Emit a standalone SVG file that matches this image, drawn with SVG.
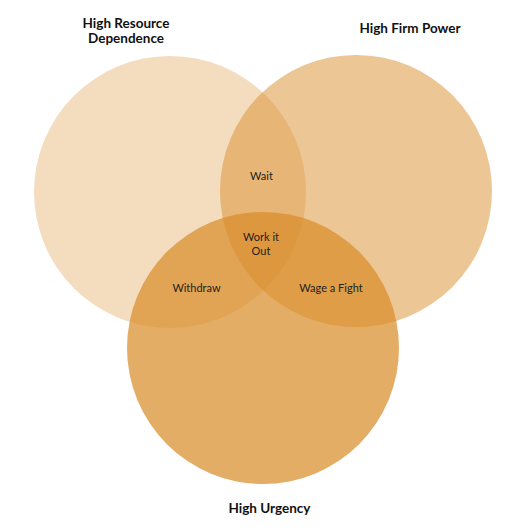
<svg xmlns="http://www.w3.org/2000/svg" width="526" height="530" viewBox="0 0 526 530">
<style>
.c{fill:#D98E2B}
.t{font-family:Lato,"Open Sans","Liberation Sans",sans-serif;font-weight:bold;font-size:13.5px;fill:#111;text-anchor:middle}
.l{font-family:Lato,"Open Sans","Liberation Sans",sans-serif;font-size:11px;fill:#222;text-anchor:middle}
</style>
<rect width="526" height="530" fill="#fff"/>
<g id="circle-resource"><circle class="c" cx="170" cy="192" r="136" fill-opacity="0.3"/></g>
<g id="circle-power"><circle class="c" cx="356" cy="191" r="136" fill-opacity="0.5"/></g>
<g id="circle-urgency"><circle class="c" cx="263" cy="348" r="136" fill-opacity="0.72"/></g>
<g id="connectors"></g>
<g id="title-resource"><text class="t" x="126" y="27.5">High Resource</text><text class="t" x="126" y="42.5">Dependence</text></g>
<g id="title-power"><text class="t" x="410" y="33">High Firm Power</text></g>
<g id="title-urgency"><text class="t" x="269.5" y="513">High Urgency</text></g>
<g id="wait"><text class="l" x="261.5" y="179.5">Wait</text></g>
<g id="work"><text class="l" x="261" y="240.5">Work it</text><text class="l" x="261" y="254.5">Out</text></g>
<g id="withdraw"><text class="l" x="196.5" y="291.5">Withdraw</text></g>
<g id="fight"><text class="l" x="331" y="291.5">Wage a Fight</text></g>
</svg>
